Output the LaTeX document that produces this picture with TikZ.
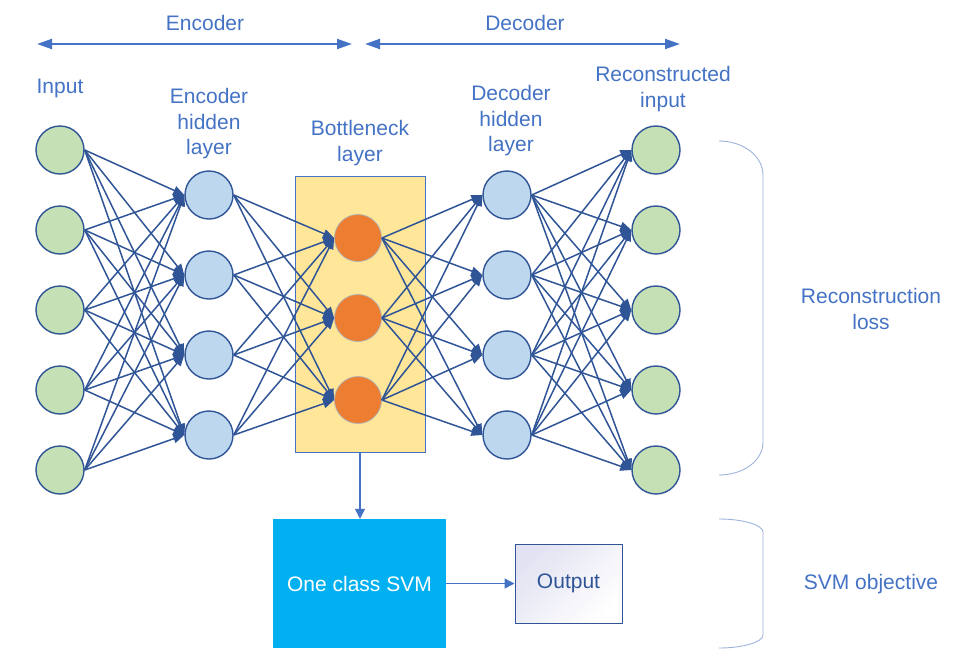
\documentclass[tikz,border=0pt]{standalone}
\usepackage{fontspec}
\setmainfont{Liberation Sans}
\usetikzlibrary{arrows.meta}
\definecolor{txtblue}{HTML}{4472C4}
\definecolor{dkblue}{HTML}{2F5597}
\definecolor{ngreen}{HTML}{C5E0B4}
\definecolor{nblue}{HTML}{BDD7EE}
\definecolor{norange}{HTML}{ED7D31}
\definecolor{bnfill}{HTML}{FFE699}
\definecolor{svmfill}{HTML}{00B0F0}
\definecolor{bracec}{HTML}{9DB3DD}
\definecolor{outlav}{HTML}{E2E2F2}
\begin{document}
\begin{tikzpicture}[x=1pt,y=-1pt,
  font=\fontsize{21}{25.5}\selectfont,
  neuron/.style={circle, minimum size=48pt, inner sep=0pt, draw=dkblue, line width=1.4pt},
  inneuron/.style={neuron, fill=ngreen},
  hidneuron/.style={neuron, fill=nblue},
  bneuron/.style={circle, minimum size=47pt, inner sep=0pt, fill=norange, draw=gray!60, line width=0.8pt},
  conn/.style={draw=dkblue, line width=1.5pt, -{Triangle[length=11pt,width=9pt]}},
  lbl/.style={text=txtblue, align=center, inner sep=0pt},
  spanarrow/.style={draw=txtblue, line width=2pt, {Triangle[length=15pt,width=10pt]}-{Triangle[length=15pt,width=10pt]}},
  bracket/.style={draw=bracec, line width=0.9pt},
  flow/.style={draw=txtblue, line width=1.4pt, -{Triangle[length=10pt,width=10pt]}}
]
\useasboundingbox (0,0) rectangle (957,662);

% bottleneck box
\node[fill=bnfill, draw=txtblue, line width=1pt, minimum width=130pt, minimum height=276pt, inner sep=0pt] (bn) at (360,314) {};

% neurons
\foreach \i/\y in {1/150,2/230,3/310,4/390,5/470} \node[inneuron] (i\i) at (60,\y) {};
\foreach \i/\y in {1/195,2/275,3/355,4/435} \node[hidneuron] (e\i) at (209,\y) {};
\foreach \i/\y in {1/238,2/318,3/400} \node[bneuron] (b\i) at (358,\y) {};
\foreach \i/\y in {1/195,2/275,3/355,4/435} \node[hidneuron] (d\i) at (507,\y) {};
\foreach \i/\y in {1/150,2/230,3/310,4/390,5/470} \node[inneuron] (o\i) at (656,\y) {};

% connections
\foreach \a in {1,...,5} \foreach \b in {1,...,4} \draw[conn] (i\a.east) -- (e\b.west);
\foreach \a in {1,...,4} \foreach \b in {1,...,3} \draw[conn] (e\a.east) -- (b\b.west);
\foreach \a in {1,...,3} \foreach \b in {1,...,4} \draw[conn] (b\a.east) -- (d\b.west);
\foreach \a in {1,...,4} \foreach \b in {1,...,5} \draw[conn] (d\a.east) -- (o\b.west);

% top span arrows
\node[lbl] (encl) at (205,23) {Encoder};
\node[lbl] (decl) at (525,23) {Decoder};
\coordinate (ea) at (37,44);
\coordinate (eb) at (352,44);
\coordinate (da) at (365,44);
\coordinate (db) at (680,44);
\draw[spanarrow] (ea) -- (eb);
\draw[spanarrow] (da) -- (db);

% layer labels
\node[lbl] (linput) at (60,88) {Input};
\node[lbl] (lenc) at (209,124) {Encoder\\hidden\\layer};
\node[lbl] (lbn) at (360,143) {Bottleneck\\layer};
\node[lbl] (ldec) at (511,121) {Decoder\\hidden\\layer};
\node[lbl] (lrec) at (663,89) {Reconstructed\\input};

% SVM and output
\node[fill=svmfill, minimum width=173pt, minimum height=129pt, text=white, inner sep=0pt] (svm) at (359.5,583.5) {One class SVM};
\node[draw=dkblue, line width=1pt, shading=axis, top color=outlav, bottom color=white, shading angle=45, minimum width=107pt, minimum height=79pt, text=dkblue, inner sep=0pt] (outp) at (568.5,583.5) {Output};
\draw[flow] (bn.south) -- (bn.south |- svm.north);
\draw[flow] (svm.east) -- (outp.west);

% brackets
\draw[bracket] (719,141) .. controls (743,141) and (763,156) .. (763,175) -- (763,442) .. controls (763,461) and (743,475) .. (719,475);
\draw[bracket] (719,519) .. controls (743,519) and (763,525) .. (763,532) -- (763,635) .. controls (763,642) and (743,648) .. (719,648);
\node[lbl] (lrl) at (871,309) {Reconstruction\\loss};
\node[lbl] (lsvm) at (871,584) {SVM objective};
\end{tikzpicture}
\end{document}
